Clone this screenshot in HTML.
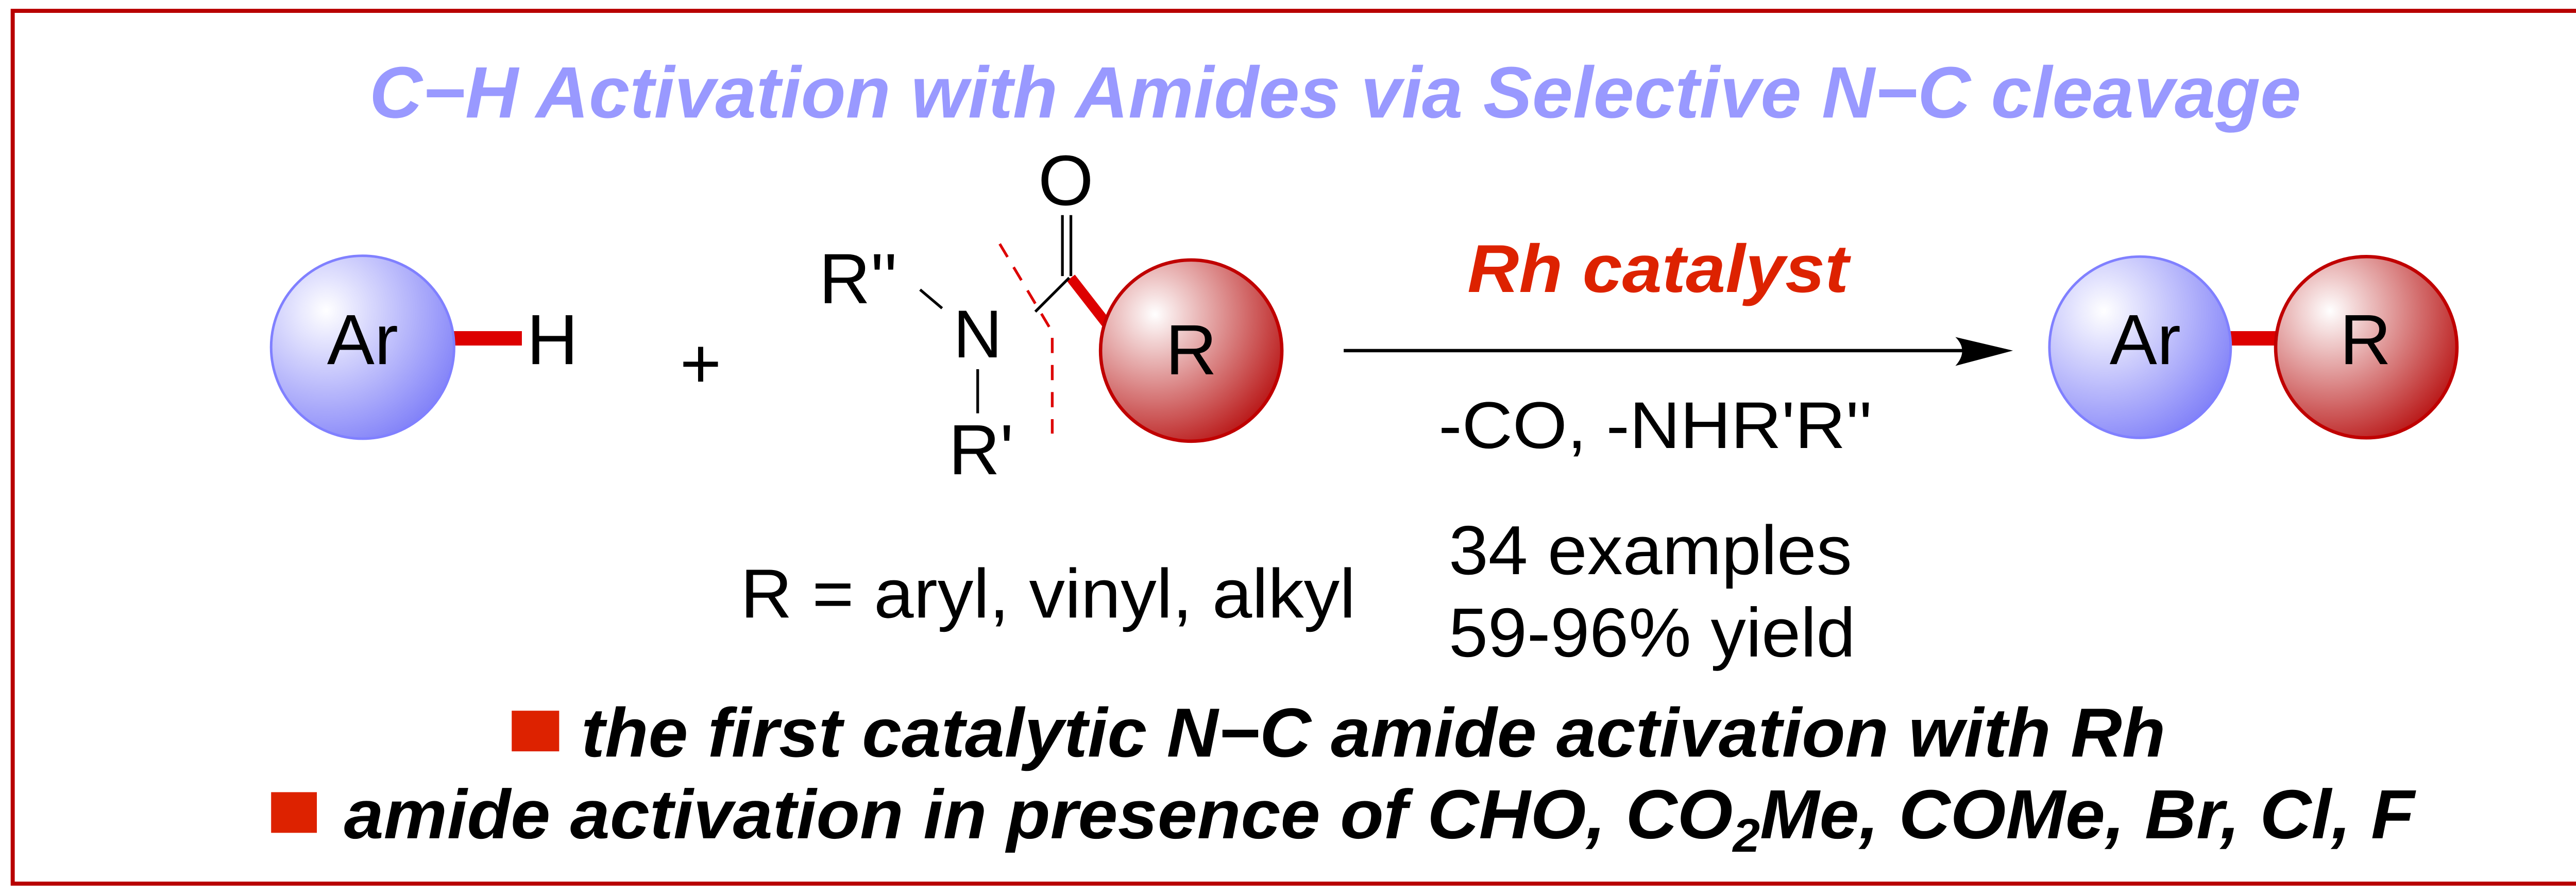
<!DOCTYPE html>
<html><head><meta charset="utf-8"><style>
html,body{margin:0;padding:0;background:#fff;}
svg{display:block;}
text{font-family:"Liberation Sans",Arial,sans-serif;}
</style></head><body>
<svg width="5157" height="1740" viewBox="0 0 1568 529" preserveAspectRatio="none" xmlns="http://www.w3.org/2000/svg">
<defs>
<radialGradient id="gb" cx="0.3" cy="0.3" r="0.8">
<stop offset="0" stop-color="#ffffff"/><stop offset="1" stop-color="#7f7ff8"/>
</radialGradient>
<radialGradient id="gr" cx="0.3" cy="0.3" r="0.8">
<stop offset="0" stop-color="#ffffff"/><stop offset="1" stop-color="#b81414"/>
</radialGradient>
</defs>
<rect x="0" y="0" width="1568" height="529" fill="#fff"/>
<rect x="7.5" y="6.4" width="1552.5" height="515.3" fill="none" stroke="#b80000" stroke-width="2.4"/>

<text x="218" y="69.4" font-size="43" font-weight="bold" font-style="italic" fill="#9999ff" textLength="1140" lengthAdjust="spacingAndGlyphs">C−H Activation with Amides via Selective N−C cleavage</text>

<!-- Ar-H -->
<rect x="266" y="195.5" width="42" height="8.5" fill="#dd0000"/>
<circle cx="214" cy="205" r="54" fill="url(#gb)" stroke="#8080ff" stroke-width="1.5"/>
<text x="214" y="215" font-size="42" text-anchor="middle">Ar</text>
<text x="326" y="215" font-size="42" text-anchor="middle">H</text>
<text x="413.5" y="229" font-size="42" text-anchor="middle">+</text>

<!-- amide -->
<line x1="632" y1="164" x2="660" y2="200" stroke="#dd0000" stroke-width="6"/>
<circle cx="703" cy="207" r="53.5" fill="url(#gr)" stroke="#c00000" stroke-width="2"/>
<text x="703" y="221" font-size="42" text-anchor="middle">R</text>
<text x="629" y="121" font-size="42" text-anchor="middle">O</text>
<line x1="627" y1="127" x2="627" y2="163" stroke="#000" stroke-width="1.6"/>
<line x1="632" y1="127" x2="632" y2="163" stroke="#000" stroke-width="1.6"/>
<line x1="611" y1="184" x2="631" y2="164" stroke="#000" stroke-width="1.6"/>
<text x="506.5" y="179" font-size="42" text-anchor="middle">R''</text>
<line x1="543" y1="171" x2="556" y2="182" stroke="#000" stroke-width="1.6"/>
<text x="577" y="211" font-size="40" text-anchor="middle">N</text>
<line x1="577" y1="218" x2="577" y2="244" stroke="#000" stroke-width="1.6"/>
<text x="579" y="280" font-size="42" text-anchor="middle">R'</text>
<polyline points="590,144 621,196 621,256" fill="none" stroke="#dd0000" stroke-width="1.6" stroke-dasharray="9,7"/>

<!-- arrow -->
<line x1="793" y1="207" x2="1170" y2="207" stroke="#000" stroke-width="2"/>
<path d="M1154,199 L1188,207 L1154,216 Q1162,207 1154,199 Z" fill="#000"/>
<text x="866" y="172.4" font-size="40" font-weight="bold" font-style="italic" fill="#dd2200" textLength="225" lengthAdjust="spacingAndGlyphs">Rh catalyst</text>
<text x="849" y="264.5" font-size="39" textLength="256" lengthAdjust="spacingAndGlyphs">-CO, -NHR'R''</text>

<!-- product -->
<rect x="1315" y="195.5" width="29" height="8.5" fill="#dd0000"/>
<circle cx="1263" cy="205" r="53.5" fill="url(#gb)" stroke="#8080ff" stroke-width="1.5"/>
<circle cx="1396.5" cy="205" r="53.5" fill="url(#gr)" stroke="#c00000" stroke-width="2"/>
<text x="1266" y="215" font-size="42" text-anchor="middle">Ar</text>
<text x="1396" y="215" font-size="42" text-anchor="middle">R</text>

<text x="437" y="364.6" font-size="41" textLength="363" lengthAdjust="spacingAndGlyphs">R = aryl, vinyl, alkyl</text>
<text x="855" y="339" font-size="41" textLength="238" lengthAdjust="spacingAndGlyphs">34 examples</text>
<text x="855" y="387.6" font-size="41" textLength="240" lengthAdjust="spacingAndGlyphs">59-96% yield</text>

<rect x="302" y="419.6" width="28" height="24" fill="#dd2200"/>
<text x="343" y="446.7" font-size="41" font-weight="bold" font-style="italic" textLength="935" lengthAdjust="spacingAndGlyphs">the first catalytic N−C amide activation with Rh</text>
<rect x="160" y="467.7" width="27" height="24" fill="#dd2200"/>
<text x="203" y="494.9" font-size="41" font-weight="bold" font-style="italic" textLength="1222" lengthAdjust="spacingAndGlyphs">amide activation in presence of CHO, CO<tspan font-size="28" dy="8">2</tspan><tspan dy="-8">Me, COMe, Br, Cl, F</tspan></text>
</svg>
</body></html>
